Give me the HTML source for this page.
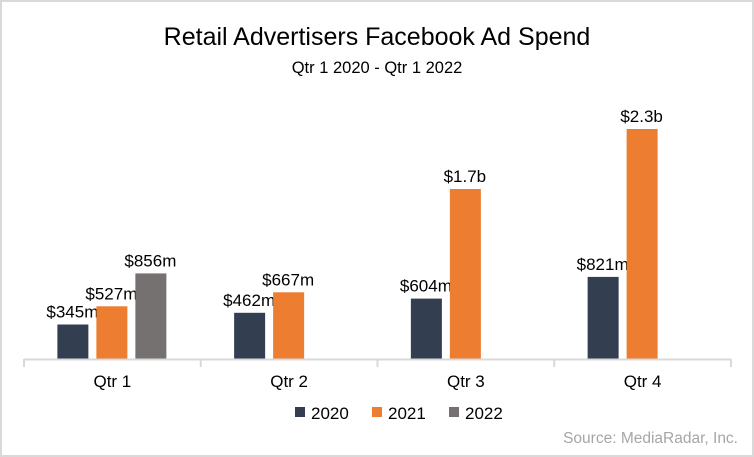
<!DOCTYPE html>
<html><head><meta charset="utf-8"><style>
body{margin:0;background:#fff}
svg{display:block;font-family:"Liberation Sans",Calibri,sans-serif}
</style></head><body>
<svg width="754" height="457">
<rect x="1" y="1" width="752" height="455" fill="#fff" stroke="#d9d9d9" stroke-width="2"/>
<text x="377" y="45" text-anchor="middle" font-size="25" fill="#000">Retail Advertisers Facebook Ad Spend</text>
<text x="377" y="73" text-anchor="middle" font-size="16.5" fill="#000">Qtr 1 2020 - Qtr 1 2022</text>
<g id="plot"></g>
<text x="738" y="443" text-anchor="end" font-size="15.5" fill="#a6a6a6">Source: MediaRadar, Inc.</text>
</svg>
<script>
const categories=["Qtr 1","Qtr 2","Qtr 3","Qtr 4"];
const seriesNames=["2020","2021","2022"];
const s2020=[345,462,604,821];
const s2021=[527,667,1700,2300];
const s2022=[856,null,null,null];
const labels2020=["$345m","$462m","$604m","$821m"];
const labels2021=["$527m","$667m","$1.7b","$2.3b"];
const labels2022=["$856m","","",""];
const colors=["#333f50","#ed7d31","#767171"];
const NS="http://www.w3.org/2000/svg";
const g=document.getElementById('plot');
const x0=24,x1=731,base=359,scale=0.1;
const cw=(x1-x0)/categories.length;
const bw=30,gap=9;
const y=v=>base-v*scale;
function mk(t,a){const e=document.createElementNS(NS,t);for(const k in a)e.setAttribute(k,a[k]);g.appendChild(e);return e;}
const series=[s2020,s2021,s2022],lbls=[labels2020,labels2021,labels2022];
categories.forEach((c,i)=>{
  const cx=x0+cw*(i+0.5);
  series.forEach((s,j)=>{
    if(s[i]==null)return;
    const bx=cx-bw/2+(j-1)*(bw+gap)-1;
    const r=mk('rect',{x:bx,y:y(s[i]),width:bw+1,height:base-y(s[i]),fill:colors[j]});
    
    
    const t=mk('text',{x:bx+bw/2,y:y(s[i])-7,'text-anchor':'middle','font-size':'17',fill:'#000'});
    t.textContent=lbls[j][i];
    
    
  });
  const l=mk('text',{x:cx,y:387,'text-anchor':'middle','font-size':'17',fill:'#000'});
  l.textContent=c;
  
  
});
const ax=mk('line',{x1:x0,x2:x1,y1:base+0.5,y2:base+0.5,stroke:'#d9d9d9','stroke-width':2});


for(let i=0;i<=categories.length;i++){
  const tx=x0+cw*i;
  const tk=mk('line',{x1:tx,x2:tx,y1:base,y2:367,stroke:'#d9d9d9','stroke-width':2});
  
  
}
const lx=[295,372,449];
seriesNames.forEach((n,j)=>{
  const r=mk('rect',{x:lx[j],y:407,width:10,height:10,fill:colors[j]});
  
  
  const t=mk('text',{x:lx[j]+16,y:419,'font-size':'17',fill:'#000'});
  t.textContent=n;
  
  
});
</script>
</body></html>
